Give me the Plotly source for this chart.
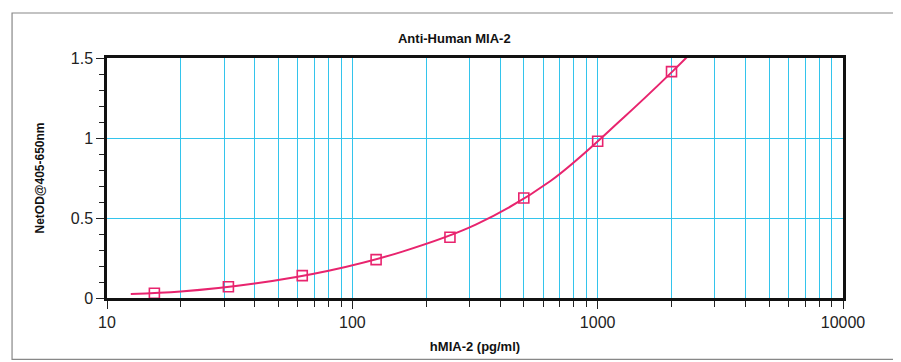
import plotly.graph_objects as go

# standard points
conc = [15.6, 31.25, 62.5, 125, 250, 500, 1000, 2000]
od = [0.03, 0.07, 0.14, 0.24, 0.38, 0.625, 0.98, 1.415]

# fitted curve
fit_x = [12.5, 20, 40, 80, 160, 320, 640, 1280, 2000, 2360]
fit_y = [0.025, 0.04, 0.09, 0.17, 0.29, 0.46, 0.73, 1.13, 1.41, 1.52]

pink = '#e8246e'
grid_blue = '#33c4ec'

fig = go.Figure()
fig.add_trace(go.Scatter(x=fit_x, y=fit_y, mode='lines', line_shape='spline',
                         line=dict(color=pink, width=2), hoverinfo='skip',
                         showlegend=False))
fig.add_trace(go.Scatter(x=conc, y=od, mode='markers',
                         marker=dict(symbol='square-open', size=10, color=pink,
                                     line=dict(width=1.6)),
                         showlegend=False))

font = 'Liberation Sans, Arial, sans-serif'

# page body adds 8px margin, so the figure is 8px smaller and shifted
fig.update_layout(
    width=893, height=354,
    margin=dict(l=99, r=58, t=50, b=64),
    plot_bgcolor='white', paper_bgcolor='white',
    font=dict(family=font, color='#222'),
    title=dict(text='<b>Anti-Human MIA-2</b>', x=0.4998, xanchor='center',
               y=0.915, yanchor='middle', font=dict(size=13, color='#111')),
    shapes=[dict(type='rect', xref='paper', yref='paper',
                 x0=-0.129, x1=1.0734, y0=-0.256, y1=1.1875,
                 line=dict(color='#888', width=1.2), fillcolor='rgba(0,0,0,0)',
                 layer='below')],
)

fig.update_xaxes(type='log', range=[1, 4], automargin=False,
                 tickvals=[10, 100, 1000, 10000],
                 ticktext=['10', '100', '1000', '10000'],
                 tickfont=dict(size=16, color='#222'),
                 ticks='outside', ticklen=8, tickwidth=1.2, tickcolor='#222',
                 showgrid=True, gridcolor=grid_blue, gridwidth=1,
                 minor=dict(tickvals=[v * m for m in (10, 100, 1000) for v in range(2, 10)],
                            ticks='outside', ticklen=6, tickcolor='#222',
                            showgrid=True, gridcolor=grid_blue, gridwidth=1),
                 showline=True, linecolor='#111', linewidth=2.5, mirror=True,
                 zeroline=False,
                 title=dict(text='<b>hMIA-2 (pg/ml)</b>', font=dict(size=13, color='#111'),
                            standoff=12))

fig.update_yaxes(range=[0, 1.5], automargin=False, tickvals=[0, 0.5, 1, 1.5],
                 ticktext=['0', '0.5', '1', '1.5'],
                 tickfont=dict(size=16, color='#222'),
                 ticks='outside', ticklen=8, tickwidth=1.2, tickcolor='#222',
                 showgrid=True, gridcolor=grid_blue, gridwidth=1,
                 minor=dict(dtick=0.1, ticks='outside', ticklen=5, tickcolor='#222',
                            showgrid=False),
                 showline=True, linecolor='#111', linewidth=2.5, mirror=True,
                 zeroline=False,
                 title=dict(text='<b>NetOD@405-650nm</b>', font=dict(size=12, color='#111'),
                            standoff=24))

fig.write_html("out.html")
